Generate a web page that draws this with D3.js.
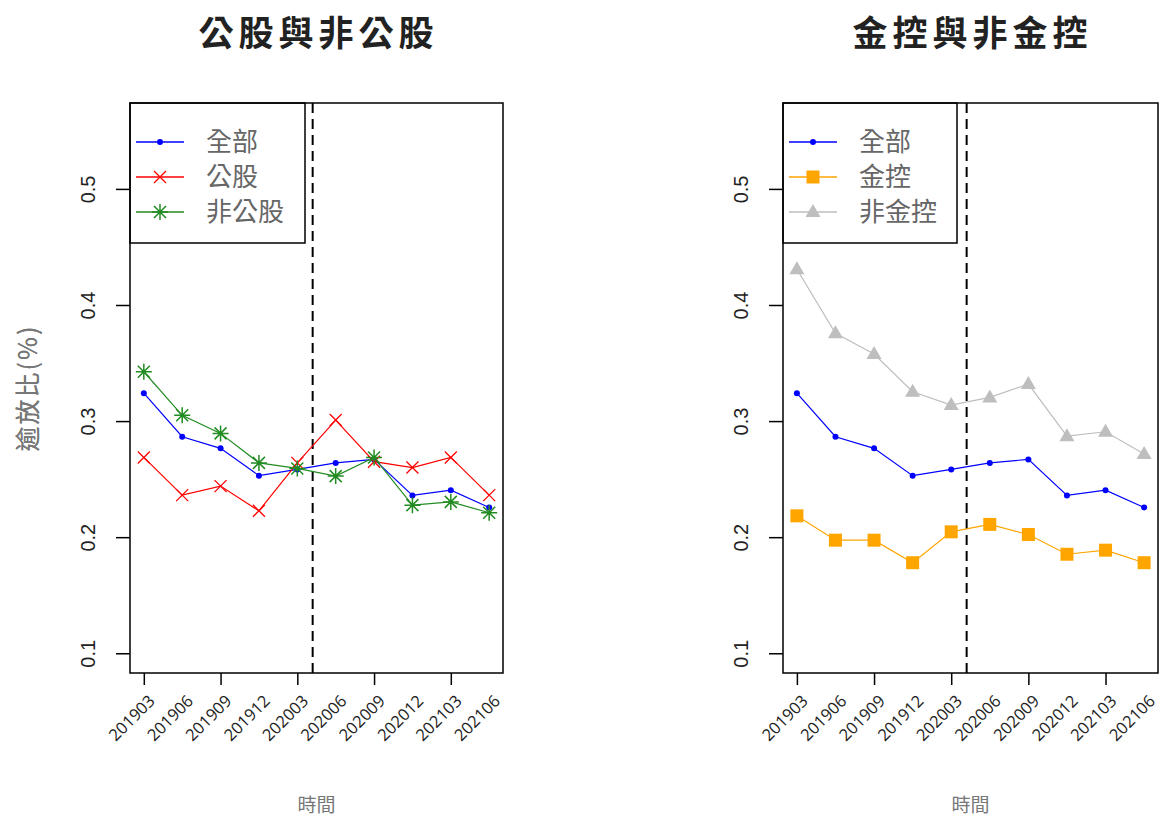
<!DOCTYPE html>
<html><head><meta charset="utf-8">
<script src="https://cdn.jsdelivr.net/npm/d3@7"></script>
<style>body{margin:0;background:#fff}svg{display:block}</style>
</head><body>
<svg id="c" width="1162" height="816"></svg>
<script>
const periods = ["201903","201906","201909","201912","202003","202006","202009","202012","202103","202106"];
const yTicks = [0.1,0.2,0.3,0.4,0.5];
const breakPos = 4.4;

const leftTitle = "公股與非公股";
const leftNames = ["全部","公股","非公股"];
const allBanks   = [0.324,0.2865,0.2765,0.253,0.2584,0.264,0.267,0.236,0.2405,0.2256];
const publicBanks = [0.2687,0.2362,0.244,0.2227,0.264,0.3009,0.265,0.260,0.2687,0.2362];
const nonPublic  = [0.3425,0.305,0.2894,0.264,0.2592,0.2526,0.2687,0.2276,0.2304,0.221];

const rightTitle = "金控與非金控";
const rightNames = ["全部","金控","非金控"];
const finHold    = [0.2184,0.1974,0.1974,0.178,0.2046,0.211,0.2023,0.1853,0.1888,0.178];
const nonFinHold = [0.4308,0.3756,0.3578,0.3253,0.3138,0.3204,0.3319,0.287,0.2908,0.2716];

const yLabel = "逾放比(%)";
const xLabel = "時間";

const svg = d3.select("#c");
const FONT = "'Noto Sans CJK TC','Noto Sans',sans-serif";

function marker(g, type, color, x, y) {
  if (type === "dot") {
    g.append("circle").attr("cx", x).attr("cy", y).attr("r", 3).attr("fill", color);
  } else if (type === "x") {
    const s = 6;
    g.append("path").attr("d", `M${x-s},${y-s}L${x+s},${y+s}M${x-s},${y+s}L${x+s},${y-s}`)
      .attr("stroke", color).attr("stroke-width", 1.3).attr("fill", "none");
  } else if (type === "star") {
    const s = 6, p = 8;
    g.append("path").attr("d", `M${x-s},${y-s}L${x+s},${y+s}M${x-s},${y+s}L${x+s},${y-s}M${x-p},${y}L${x+p},${y}M${x},${y-p}L${x},${y+p}`)
      .attr("stroke", color).attr("stroke-width", 1.5).attr("fill", "none");
  } else if (type === "square") {
    g.append("rect").attr("x", x-6.5).attr("y", y-6.5).attr("width", 13).attr("height", 13).attr("fill", color);
  } else if (type === "tri") {
    g.append("path").attr("d", `M${x},${y-8}L${x+7.5},${y+5}L${x-7.5},${y+5}Z`).attr("fill", color);
  }
}

function panel(x0, x1, title, series, names) {
  const top = 103, bottom = 673;
  const x = d3.scaleLinear().domain([-0.36, 9.36]).range([x0, x1]);
  const y = d3.scaleLinear().domain([0.083, 0.574]).range([bottom, top]);
  const g = svg.append("g");
  const cx = (x0 + x1) / 2;

  g.append("text").attr("x", cx + 2).attr("y", 46).attr("text-anchor", "middle")
    .attr("font-family", FONT).attr("font-weight", 700).attr("font-size", 35)
    .attr("fill", "#222").attr("letter-spacing", 5).text(title);

  // y axis
  const ya = g.append("g").attr("transform", `translate(${x0},0)`)
    .call(d3.axisLeft(y).tickValues(yTicks).tickSize(14).tickFormat(d3.format(".1f")));
  ya.select(".domain").remove();
  ya.selectAll("line").attr("stroke", "#000").attr("stroke-width", 1.5);
  ya.selectAll("text").attr("font-family", "'Liberation Sans',Arial,sans-serif").attr("font-size", 20)
    .attr("fill", "#222").attr("x", null).attr("dy", "0.35em")
    .attr("text-anchor", "middle")
    .attr("transform", "translate(-42,0) rotate(-90)");

  // x axis
  const xa = g.append("g").attr("transform", `translate(0,${bottom})`)
    .call(d3.axisBottom(x).tickValues([0,2,4,6,8]).tickSize(12).tickFormat(""));
  xa.select(".domain").remove();
  xa.selectAll("line").attr("stroke", "#000").attr("stroke-width", 1.5);
  periods.forEach((p, i) => {
    g.append("text").attr("transform", `translate(${x(i)+8},${698}) rotate(-45)`)
      .attr("text-anchor", "end").attr("dy", "0.35em")
      .attr("font-family", "'Open Sans','DejaVu Sans',sans-serif").attr("font-size", 16.5)
      .attr("fill", "#222").text(p);
  });

  // axis titles
  g.append("text").attr("transform", `translate(28,${(top+bottom)/2}) rotate(-90)`)
    .attr("text-anchor", "middle").attr("dy", "0.35em").attr("font-family", FONT)
    .attr("font-size", 25).attr("letter-spacing", 2).attr("fill", "#777").text(yLabel);
  g.append("text").attr("x", cx).attr("y", 812).attr("text-anchor", "middle")
    .attr("font-family", FONT).attr("font-size", 19).attr("fill", "#777").text(xLabel);

  // dashed line
  g.append("line").attr("x1", x(breakPos)).attr("x2", x(breakPos)).attr("y1", top).attr("y2", bottom)
    .attr("stroke", "#000").attr("stroke-width", 2).attr("stroke-dasharray", "10,6");

  // series
  const line = d3.line().x((d, i) => x(i)).y(d => y(d));
  series.forEach(s => {
    g.append("path").datum(s.values).attr("d", line).attr("fill", "none")
      .attr("stroke", s.color).attr("stroke-width", 1.2);
    s.values.forEach((v, i) => marker(g, s.marker, s.color, x(i), y(v)));
  });

  // legend
  const lx = x0, lw = (x0 < 400 ? 175 : 174);
  g.append("rect").attr("x", lx).attr("y", top).attr("width", lw).attr("height", 140)
    .attr("fill", "#fff").attr("stroke", "#000").attr("stroke-width", 1.5);
  series.forEach((s, i) => {
    const ly = 142 + i * 35;
    g.append("line").attr("x1", lx + 6).attr("x2", lx + 54).attr("y1", ly).attr("y2", ly)
      .attr("stroke", s.color).attr("stroke-width", 1.5);
    marker(g, s.marker, s.color, lx + 30, ly);
    g.append("text").attr("x", lx + 76).attr("y", ly + 9)
      .attr("font-family", FONT).attr("font-size", 26).attr("fill", "#666").text(names[i]);
  });

  // box
  g.append("rect").attr("x", x0).attr("y", top).attr("width", x1 - x0).attr("height", bottom - top)
    .attr("fill", "none").attr("stroke", "#000").attr("stroke-width", 1.5);
}

panel(130, 503, leftTitle, [
  {values: allBanks, color: "#0000ff", marker: "dot"},
  {values: publicBanks, color: "#ff0000", marker: "x"},
  {values: nonPublic, color: "#228b22", marker: "star"}
], leftNames);

panel(783, 1158, rightTitle, [
  {values: allBanks, color: "#0000ff", marker: "dot"},
  {values: finHold, color: "#ffa500", marker: "square"},
  {values: nonFinHold, color: "#bebebe", marker: "tri"}
], rightNames);
</script>
</body></html>
